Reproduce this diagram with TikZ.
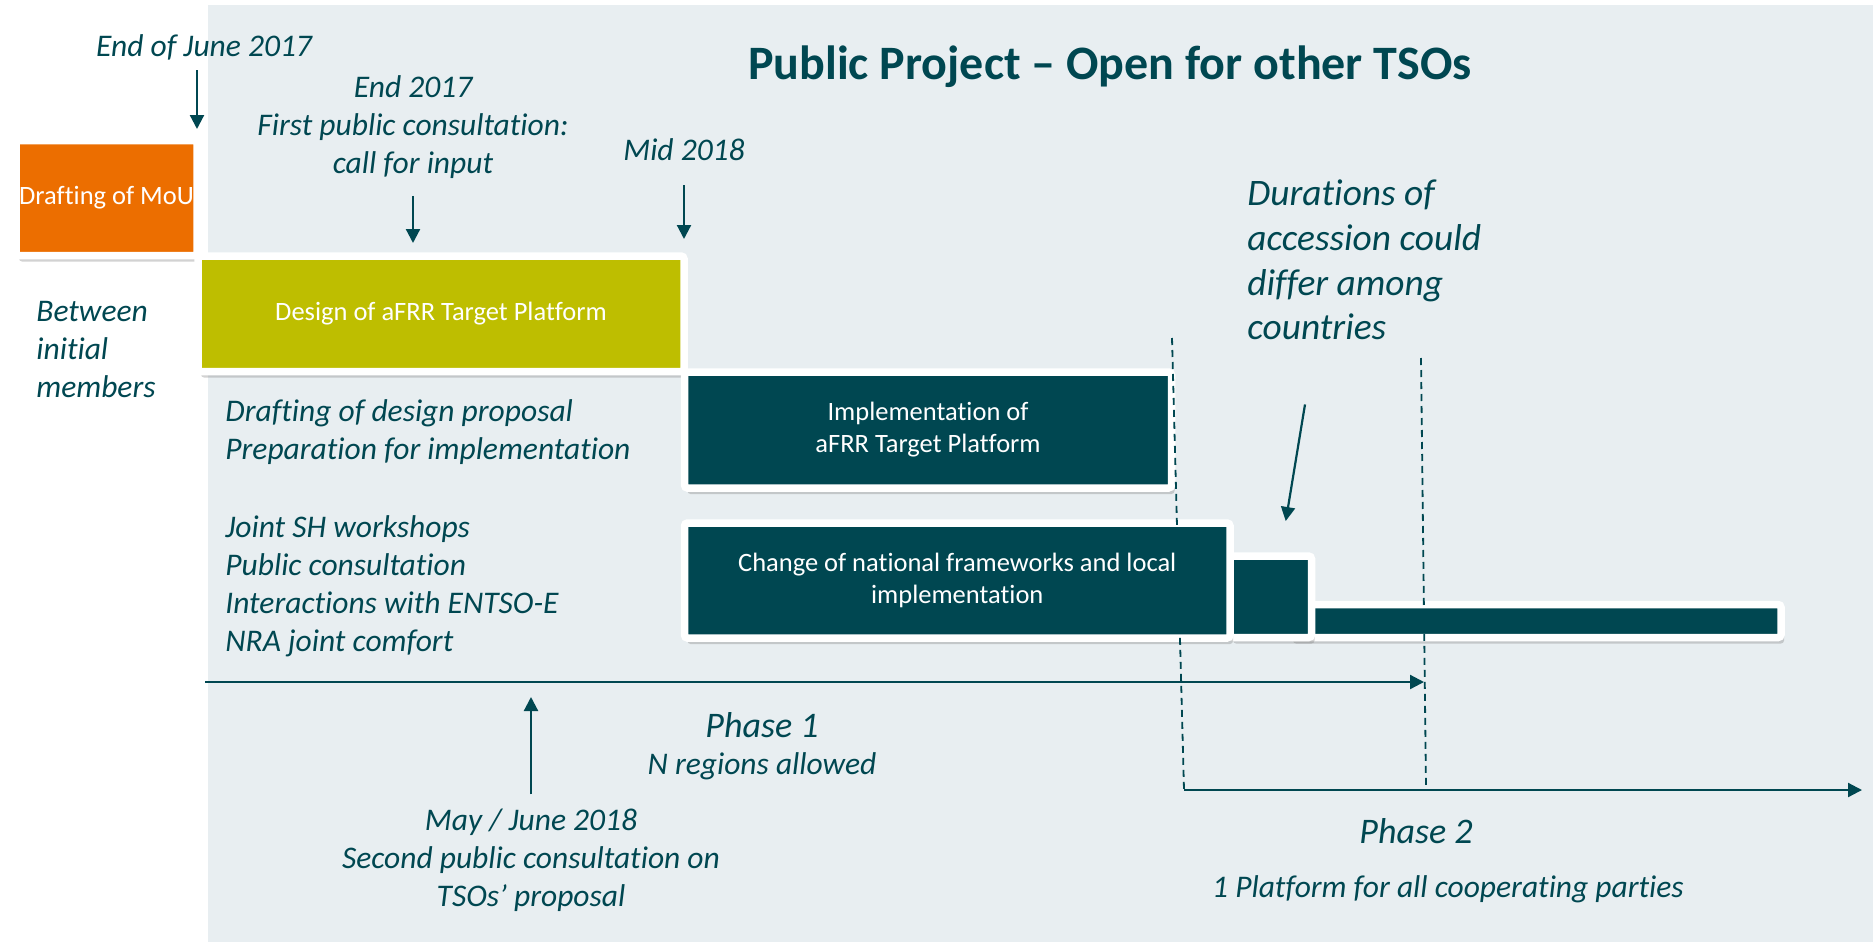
\documentclass[tikz,border=0pt]{standalone}
\usepackage{fontspec}
\setmainfont{Carlito}[Ligatures={TeX,NoCommon,NoContextual,NoRare}]
\usepackage{tikz}
\usetikzlibrary{arrows.meta,shadows,calc}
\definecolor{petrol}{RGB}{0,71,81}
\definecolor{mouorange}{RGB}{236,110,0}
\definecolor{designolive}{RGB}{190,190,0}
\definecolor{panelgrey}{RGB}{232,238,241}
\tikzstyle{barbox} = [draw=white, line width=3.75pt, rounded corners=1.5pt,
    rectangle, outer sep=0pt, inner sep=0pt, text=white, align=center,
    font=\fontsize{13.25}{16}\selectfont,
    drop shadow={shadow xshift=1.5pt, shadow yshift=-3pt, opacity=0.35}]
\tikzstyle{note} = [inner sep=0pt, text=petrol, font=\itshape\fontsize{15.75}{19}\selectfont]
\tikzstyle{pointer} = [draw=petrol, line width=1.1pt, -{Triangle[length=7pt, width=7pt]}]
\tikzstyle{phaseline} = [draw=petrol, line width=0.9pt, dash pattern=on 3.5pt off 2.5pt]

\begin{document}
\begin{tikzpicture}[x=0.5pt, y=-0.5pt]
    \useasboundingbox (0,0) rectangle (1873,942);
    \fill[white] (0,0) rectangle (1873,942);
    \fill[panelgrey] (208,5) rectangle (1873,942);

    \node[font=\bfseries\fontsize{24}{28}\selectfont, text=petrol] (title) at (1110,67) {Public Project -- Open for other TSOs};

    \node[barbox, fill=mouorange, minimum width=90.5pt, minimum height=57.5pt] (mou) at (106.5,198) {Drafting of MoU};
    \node[barbox, fill=designolive, minimum width=243pt, minimum height=57.75pt] (design) at (441,313.75) {Design of aFRR Target Platform};
    \node[barbox, fill=petrol, minimum width=243.5pt, minimum height=58pt] (impl) at (928,430) {Implementation of\\aFRR Target Platform};
    \node[barbox, fill=petrol, minimum width=245.5pt, minimum height=16.5pt] (longbar) at (1535.5,621) {};
    \node[barbox, fill=petrol, minimum width=40.75pt, minimum height=40.75pt] (smallbar) at (1270.75,596.75) {};
    \node[barbox, fill=petrol, minimum width=272.75pt, minimum height=57.5pt] (change) at (957.25,580.5) {Change of national frameworks and local\\implementation};

    \node[note] (endjune) at (204,47) {End of June 2017};
    \node[note, align=center] (end17) at (413,127) {End 2017\\First public consultation:\\call for input};
    \node[note] (mid18) at (684,150) {Mid 2018};
    \node[note, align=left, anchor=west] (between) at (36,350) {Between\\initial\\members};
    \node[note, align=left, anchor=west] (drafting) at (225,432.5) {Drafting of design proposal\\Preparation for implementation};
    \node[note, align=left, anchor=west] (joint) at (225,586.5) {Joint SH workshops\\Public consultation\\Interactions with ENTSO-E\\NRA joint comfort};
    \node[note, align=left, anchor=west, font=\itshape\fontsize{18.7}{22.35}\selectfont] (durations) at (1247,260) {Durations of\\accession could\\differ among\\countries};
    \node[note, font=\itshape\fontsize{18}{22}\selectfont] (phaseone) at (762,725) {Phase 1};
    \node[note] (nregions) at (762,766) {N regions allowed};
    \node[note, align=center] (may) at (531,860) {May / June 2018\\Second public consultation on\\TSOs’ proposal};
    \node[note, font=\itshape\fontsize{18}{22}\selectfont] (phasetwo) at (1416,831) {Phase 2};
    \node[note] (platform) at (1448,889) {1 Platform for all cooperating parties};

    \coordinate (p1start) at (205,682);
    \coordinate (p1end) at (1424,682);
    \coordinate (d1top) at (1172,338);
    \coordinate (d1foot) at (1184,790);
    \coordinate (d2top) at (1421,358);
    \coordinate (d2foot) at (1426,788);
    \coordinate (p2end) at (1862,790);

    \draw[pointer] ([yshift=-5pt]endjune.south -| mou.north east) -- ([yshift=5.75pt]mou.north east);
    \draw[pointer] ([yshift=-8.5pt]end17.south) -- ([yshift=6.5pt]end17.south |- design.north);
    \draw[pointer] ([yshift=-12pt]mid18.south -| design.north east) -- ([yshift=8.5pt]design.north east);
    \draw[pointer] ($(durations.south west)+(58,64)$) -- ($(smallbar.north)+(15,-35)$);
    \draw[pointer] ([yshift=7pt]may.north) -- ([yshift=-7.5pt]may.north |- p1start);
    \draw[pointer] (p1start) -- (p1end);
    \draw[pointer] (d1foot) -- (p2end);
    \draw[phaseline] (d1top) -- (d1foot);
    \draw[phaseline] (d2top) -- (d2foot);
\end{tikzpicture}
\end{document}
